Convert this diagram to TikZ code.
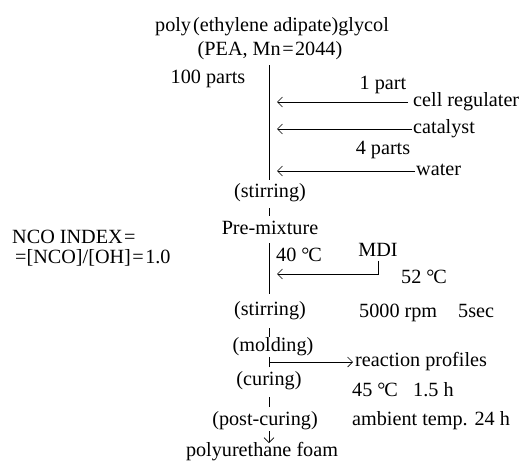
\documentclass[tikz,border=0pt]{standalone}
\usepackage{fontspec}
\setmainfont{Liberation Serif}
\usetikzlibrary{arrows.meta}
\newcommand{\dgc}{°\kern-0.06em C}
\newcommand{\eqk}{\kern1.5pt=\kern1.5pt}
\begin{document}
\begin{tikzpicture}[x=1pt,y=-1pt,
  every node/.style={font=\fontsize{20.2}{22}\selectfont, inner sep=0pt, text height=13.5pt, text depth=4pt},
  conn/.style={line width=0.65pt},
  arr/.style={conn,-{Straight Barb[length=5pt,width=10pt]}}]
\useasboundingbox (0,0) rectangle (526,463);
% texts
\node (poly) at (272,27) {poly\kern2pt(ethylene adipate)glycol};
\node (pea) at (270,51) {(PEA, Mn\eqk2044)};
\node (p100) at (208,79) {100 parts};
\node (p1) at (383,85) {1 part};
\node[anchor=west] (cell) at (413,102) {cell regulater};
\node[anchor=west] (cat) at (413,129) {catalyst};
\node (p4) at (383,150) {4 parts};
\node[anchor=west] (water) at (416,171) {water};
\node (stira) at (270,193) {(stirring)};
\node (pre) at (270,230) {Pre-mixture};
\node[anchor=west] (ncoa) at (12,239) {NCO INDEX\eqk};
\node[anchor=west] (ncob) at (15,259) {=[NCO]/[OH]\eqk1.0};
\node (tforty) at (299,257) {40 \dgc};
\node (mdi) at (378,252) {MDI};
\node (tfiftytwo) at (424,279) {52 \dgc};
\node (stirb) at (270,311) {(stirring)};
\node[anchor=west] (rpm) at (359,313) {5000 rpm};
\node[anchor=west] (sec) at (458,313) {5sec};
\node (mold) at (273,347) {(molding)};
\node[anchor=west] (react) at (355,362) {reaction profiles};
\node (cure) at (269,381) {(curing)};
\node[anchor=west] (tfortyfive) at (352,392) {45 \dgc};
\node[anchor=west] (hrs) at (413,392) {1.5 h};
\node (post) at (265,421) {(post-curing)};
\node[anchor=west] (amb) at (352,421) {ambient temp. 24 h};
\node (pu) at (262,452) {polyurethane foam};
% coordinates
\coordinate (mtop) at (269,65);
\coordinate (mbot) at (269,180);
\coordinate (ca) at (277,102);
\coordinate (cb) at (277,129);
\coordinate (cc) at (277,171);
\coordinate (tat) at (269,208);
\coordinate (tab) at (269,216);
\coordinate (ltop) at (269,243);
\coordinate (lbot) at (269,294);
\coordinate (cm) at (277,274);
\coordinate (tbt) at (269,328);
\coordinate (tbb) at (269,337);
\coordinate (rs) at (269,362);
\coordinate (tct) at (269,397);
\coordinate (tcb) at (269,407);
\coordinate (dt) at (269,431);
\coordinate (db) at (269,443);
% connectors
\draw[conn] (mtop) -- (mbot);
\draw[arr,shorten <=5pt] (cell.west) -- (ca);
\draw[arr,shorten <=1pt] (cat.west) -- (cb);
\draw[arr,shorten <=1pt] (water.west) -- (cc);
\draw[conn] (tat) -- (tab);
\draw[conn] (ltop) -- (lbot);
\draw[arr] (mdi.south) |- (cm);
\draw[conn] (tbt) -- (tbb);
\draw[conn,{Bar[width=10pt]}-{Straight Barb[length=5pt,width=10pt]},shorten >=2pt] (rs) -- (react.west);
\draw[conn] (tct) -- (tcb);
\draw[arr] (dt) -- (db);
\end{tikzpicture}
\end{document}
